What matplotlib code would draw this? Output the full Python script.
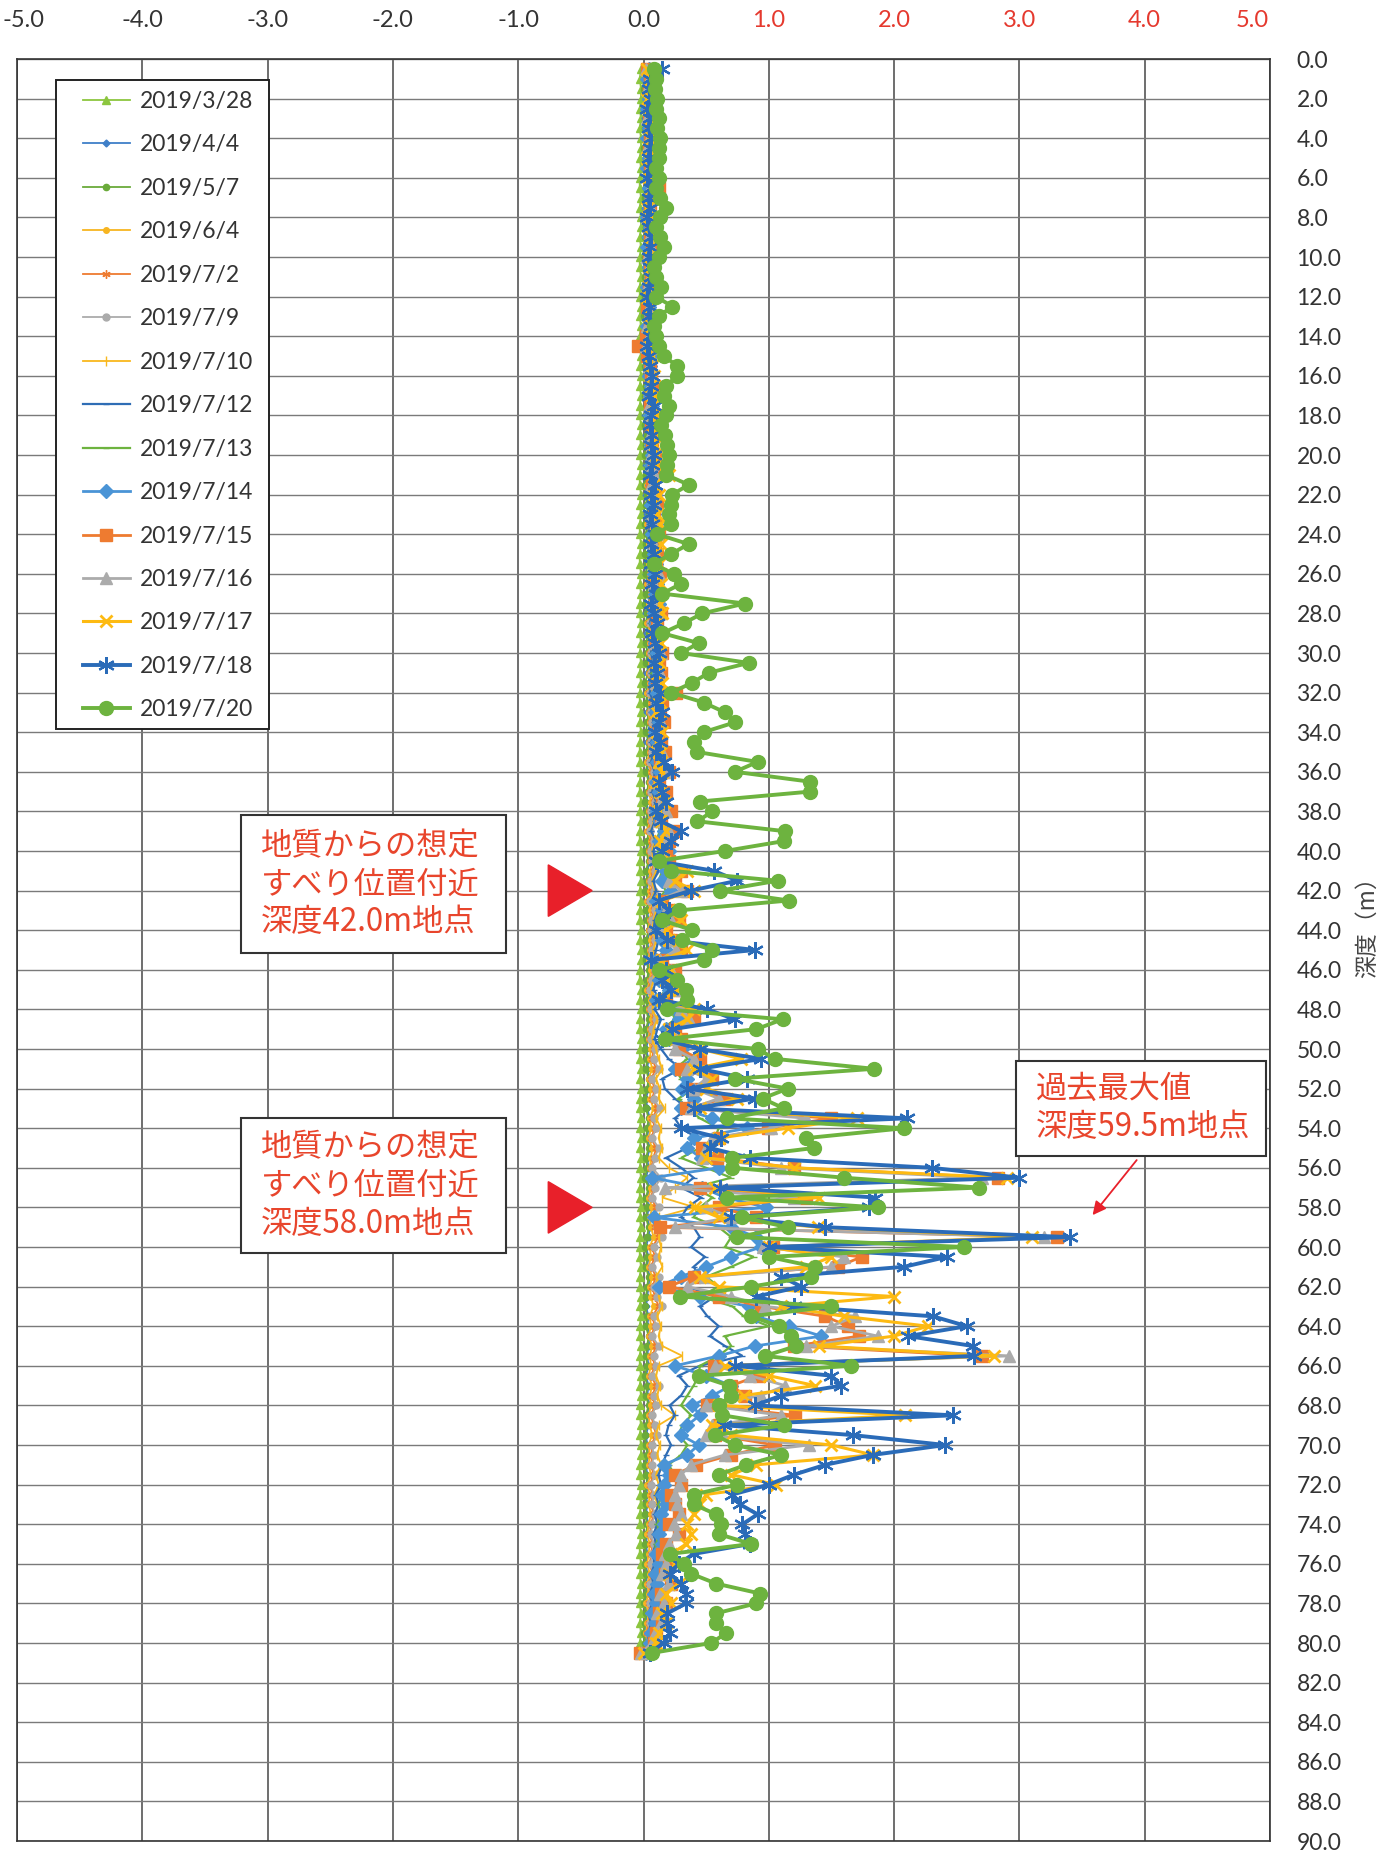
import matplotlib
matplotlib.use("Agg")
import matplotlib.pyplot as plt
import matplotlib.transforms as mtransforms
import numpy as np
from matplotlib.patches import Rectangle, Polygon

plt.rcParams['font.family'] = ['Lato', 'Noto Sans CJK JP', 'DejaVu Sans']
CJK = ['Noto Sans CJK JP', 'DejaVu Sans']

# Measurement depths (m), every 0.5 m from 0.5 to 80.5
depths = np.arange(0.5, 80.51, 0.5)

# Displacement (mm) per depth interval for each survey date
d0328 = [-0.02,-0.03,-0.02,-0.02,-0.03,-0.02,-0.03,-0.02,-0.02,-0.03,
         -0.02,-0.03,-0.03,-0.02,-0.03,-0.02,-0.02,-0.03,-0.02,-0.03,
         -0.03,-0.02,-0.03,-0.03,-0.02,-0.03,-0.02,-0.03,-0.03,-0.02,
         -0.03,-0.02,-0.03,-0.02,-0.03,-0.03,-0.02,-0.03,-0.02,-0.03,
         -0.02,-0.03,-0.03,-0.02,-0.03,-0.02,-0.03,-0.03,-0.02,-0.03,
         -0.03,-0.02,-0.03,-0.02,-0.03,-0.03,-0.02,-0.03,-0.02,-0.03,
         -0.02,-0.03,-0.02,-0.03,-0.03,-0.02,-0.03,-0.02,-0.03,-0.03,
         -0.03,-0.02,-0.03,-0.03,-0.02,-0.03,-0.02,-0.03,-0.03,-0.02,
         -0.03,-0.03,-0.02,-0.03,-0.02,-0.03,-0.03,-0.02,-0.03,-0.02,
         -0.02,-0.03,-0.03,-0.02,-0.03,-0.02,-0.03,-0.03,-0.02,-0.03,
         -0.03,-0.02,-0.03,-0.02,-0.03,-0.03,-0.02,-0.03,-0.02,-0.03,
         -0.02,-0.03,-0.02,-0.03,-0.03,-0.02,-0.03,-0.02,-0.03,-0.03,
         -0.03,-0.02,-0.03,-0.03,-0.02,-0.03,-0.02,-0.03,-0.03,-0.02,
         -0.03,-0.03,-0.02,-0.03,-0.02,-0.03,-0.03,-0.02,-0.03,-0.02,
         -0.02,-0.03,-0.03,-0.02,-0.03,-0.02,-0.03,-0.03,-0.02,-0.03,
         -0.03,-0.02,-0.03,-0.02,-0.03,-0.03,-0.02,-0.03,-0.02,-0.03,
         -0.03]
d0404 = [0.02,0.03,0.01,0.03,0.02,0.01,0.03,0.02,0.04,0.02,
         0.01,0.03,0.02,0.03,0.01,0.02,0.04,0.02,0.03,0.01,
         0.02,0.03,0.01,0.02,0.03,0.02,0.04,0.03,0.01,0.02,
         0.03,0.02,0.04,0.02,0.03,0.01,0.03,0.02,0.04,0.03,
         0.02,0.04,0.03,0.02,0.04,0.03,0.02,0.04,0.03,0.05,
         0.03,0.02,0.04,0.03,0.05,0.02,0.04,0.03,0.05,0.03,
         0.04,0.03,0.05,0.02,0.04,0.03,0.05,0.04,0.03,0.05,
         0.04,0.03,0.05,0.04,0.02,0.04,0.03,0.05,0.04,0.03,
         0.05,0.03,0.04,0.02,0.05,0.03,0.04,0.05,0.03,0.04,
         0.03,0.05,0.04,0.02,0.04,0.03,0.05,0.03,0.04,0.02,
         0.04,0.03,0.05,0.04,0.02,0.03,0.05,0.04,0.03,0.05,
         0.03,0.04,0.02,0.05,0.03,0.04,0.03,0.05,0.04,0.02,
         0.04,0.03,0.05,0.04,0.03,0.02,0.04,0.03,0.05,0.04,
         0.03,0.04,0.02,0.04,0.03,0.05,0.03,0.04,0.02,0.03,
         0.04,0.02,0.03,0.04,0.02,0.03,0.02,0.04,0.03,0.02,
         0.03,0.02,0.03,0.02,0.03,0.01,0.03,0.02,0.01,0.02,
         0.00]
d0507 = [0.01,0.02,0.00,0.02,0.01,0.03,0.01,0.02,0.00,0.02,
         0.01,0.03,0.02,0.01,0.02,0.00,0.02,0.01,0.03,0.01,
         0.02,0.01,0.03,0.01,0.02,0.00,0.02,0.03,0.01,0.02,
         0.01,0.03,0.02,0.01,0.03,0.02,0.01,0.03,0.02,0.01,
         0.03,0.02,0.01,0.03,0.02,0.04,0.01,0.03,0.02,0.01,
         0.03,0.02,0.04,0.02,0.01,0.03,0.02,0.04,0.02,0.03,
         0.02,0.04,0.01,0.03,0.02,0.04,0.03,0.02,0.04,0.02,
         0.03,0.02,0.04,0.03,0.01,0.03,0.02,0.04,0.03,0.02,
         0.04,0.02,0.03,0.01,0.04,0.02,0.03,0.04,0.02,0.03,
         0.02,0.04,0.03,0.01,0.03,0.02,0.04,0.02,0.03,0.01,
         0.03,0.02,0.04,0.03,0.01,0.02,0.04,0.03,0.02,0.04,
         0.02,0.03,0.01,0.04,0.02,0.03,0.02,0.04,0.03,0.01,
         0.03,0.02,0.04,0.03,0.02,0.01,0.03,0.02,0.04,0.03,
         0.02,0.03,0.01,0.03,0.02,0.04,0.02,0.03,0.01,0.02,
         0.03,0.01,0.02,0.03,0.01,0.02,0.01,0.03,0.02,0.01,
         0.02,0.01,0.02,0.01,0.02,0.00,0.02,0.01,0.00,0.01,
         -0.01]
d0604 = [0.02,0.04,0.03,0.05,0.02,0.04,0.03,0.05,0.03,0.04,
         0.02,0.05,0.03,0.04,0.02,0.05,0.04,0.03,0.05,0.02,
         0.04,0.03,0.05,0.02,0.04,0.03,0.05,0.04,0.02,0.04,
         0.03,0.05,0.04,0.02,0.05,0.03,0.04,0.06,0.03,0.05,
         0.04,0.06,0.03,0.05,0.04,0.06,0.03,0.05,0.04,0.06,
         0.04,0.05,0.03,0.06,0.04,0.05,0.03,0.06,0.05,0.04,
         0.06,0.04,0.05,0.03,0.06,0.04,0.05,0.06,0.04,0.05,
         0.03,0.06,0.05,0.04,0.06,0.04,0.05,0.03,0.06,0.04,
         0.05,0.06,0.04,0.05,0.03,0.06,0.05,0.04,0.06,0.05,
         0.04,0.06,0.05,0.03,0.06,0.04,0.07,0.05,0.04,0.06,
         0.05,0.07,0.04,0.06,0.05,0.08,0.05,0.06,0.04,0.07,
         0.06,0.05,0.08,0.06,0.04,0.07,0.05,0.06,0.08,0.05,
         0.06,0.04,0.07,0.05,0.06,0.08,0.05,0.06,0.04,0.07,
         0.05,0.06,0.04,0.07,0.05,0.06,0.04,0.05,0.07,0.04,
         0.05,0.04,0.06,0.03,0.05,0.04,0.06,0.04,0.03,0.05,
         0.04,0.03,0.05,0.03,0.04,0.02,0.04,0.03,0.02,0.03,
         0.00]
d0702 = [0.03,0.05,0.04,0.06,0.03,0.05,0.04,0.06,0.04,0.05,
         0.03,0.06,0.04,0.05,0.03,0.06,0.05,0.04,0.06,0.03,
         0.05,0.04,0.06,0.03,0.05,0.04,0.06,0.05,0.03,0.05,
         0.04,0.06,0.05,0.03,0.06,0.04,0.05,0.07,0.04,0.06,
         0.05,0.07,0.04,0.06,0.05,0.07,0.04,0.06,0.05,0.07,
         0.05,0.06,0.04,0.07,0.05,0.06,0.04,0.07,0.06,0.05,
         0.07,0.05,0.06,0.04,0.07,0.05,0.06,0.07,0.05,0.06,
         0.04,0.07,0.06,0.05,0.08,0.05,0.06,0.04,0.07,0.05,
         0.06,0.08,0.05,0.07,0.04,0.08,0.06,0.05,0.08,0.06,
         0.05,0.08,0.06,0.04,0.08,0.05,0.09,0.06,0.05,0.08,
         0.07,0.10,0.06,0.09,0.07,0.11,0.07,0.09,0.06,0.10,
         0.08,0.06,0.11,0.08,0.06,0.10,0.07,0.09,0.12,0.07,
         0.09,0.06,0.10,0.07,0.09,0.12,0.07,0.09,0.06,0.10,
         0.07,0.09,0.06,0.10,0.07,0.09,0.06,0.08,0.10,0.06,
         0.07,0.06,0.08,0.05,0.07,0.06,0.08,0.06,0.05,0.07,
         0.06,0.05,0.07,0.04,0.06,0.04,0.05,0.04,0.03,0.04,
         0.01]
d0709 = [0.04,0.06,0.05,0.07,0.04,0.06,0.05,0.07,0.05,0.06,
         0.04,0.07,0.05,0.06,0.04,0.07,0.06,0.05,0.07,0.04,
         0.06,0.05,0.07,0.04,0.06,0.05,0.07,0.06,0.04,0.06,
         0.05,0.07,0.06,0.04,0.07,0.05,0.06,0.08,0.05,0.07,
         0.06,0.08,0.05,0.07,0.06,0.08,0.05,0.07,0.06,0.08,
         0.06,0.07,0.05,0.08,0.06,0.07,0.05,0.08,0.07,0.06,
         0.08,0.06,0.07,0.05,0.08,0.06,0.07,0.08,0.06,0.07,
         0.05,0.08,0.07,0.06,0.09,0.06,0.07,0.05,0.08,0.06,
         0.07,0.09,0.06,0.08,0.05,0.09,0.07,0.06,0.09,0.07,
         0.06,0.09,0.07,0.05,0.09,0.06,0.10,0.07,0.06,0.09,
         0.08,0.12,0.07,0.10,0.08,0.13,0.08,0.10,0.07,0.12,
         0.09,0.07,0.14,0.09,0.07,0.12,0.08,0.11,0.15,0.08,
         0.11,0.07,0.12,0.08,0.11,0.15,0.08,0.10,0.07,0.12,
         0.08,0.10,0.07,0.12,0.08,0.10,0.07,0.09,0.11,0.07,
         0.08,0.07,0.09,0.06,0.08,0.07,0.09,0.07,0.06,0.08,
         0.07,0.06,0.08,0.05,0.07,0.05,0.06,0.05,0.04,0.05,
         0.01]
d0710 = [0.05,0.07,0.06,0.08,0.05,0.07,0.06,0.08,0.06,0.07,
         0.05,0.08,0.06,0.07,0.05,0.08,0.07,0.06,0.08,0.05,
         0.07,0.06,0.08,0.05,0.07,0.06,0.08,0.07,0.05,0.07,
         0.06,0.08,0.07,0.05,0.08,0.06,0.07,0.09,0.06,0.08,
         0.07,0.09,0.06,0.08,0.07,0.09,0.06,0.08,0.07,0.09,
         0.07,0.08,0.06,0.09,0.07,0.08,0.06,0.09,0.08,0.07,
         0.09,0.07,0.08,0.06,0.09,0.07,0.08,0.09,0.07,0.08,
         0.06,0.09,0.08,0.07,0.10,0.07,0.08,0.06,0.09,0.07,
         0.08,0.10,0.07,0.09,0.06,0.10,0.08,0.07,0.10,0.08,
         0.07,0.10,0.08,0.06,0.10,0.07,0.11,0.08,0.07,0.10,
         0.12,0.15,0.10,0.13,0.12,0.17,0.10,0.14,0.12,0.15,
         0.12,0.20,0.35,0.25,0.15,0.41,0.12,0.15,0.12,0.14,
         0.12,0.15,0.10,0.14,0.12,0.15,0.11,0.14,0.12,0.15,
         0.31,0.12,0.10,0.13,0.11,0.14,0.25,0.12,0.10,0.13,
         0.11,0.14,0.10,0.12,0.09,0.11,0.10,0.12,0.09,0.11,
         0.08,0.10,0.07,0.09,0.06,0.08,0.05,0.07,0.05,0.04,
         0.01]
d0712 = [0.03,0.05,0.04,0.06,0.03,0.05,0.04,0.06,0.04,0.05,
         0.03,0.06,0.04,0.05,0.03,0.06,0.05,0.04,0.06,0.03,
         0.05,0.04,0.06,0.03,0.05,0.04,0.06,0.05,0.03,0.05,
         0.04,0.06,0.05,0.03,0.06,0.04,0.05,0.07,0.04,0.06,
         0.05,0.07,0.04,0.06,0.05,0.07,0.04,0.06,0.05,0.07,
         0.05,0.07,0.05,0.08,0.06,0.07,0.05,0.08,0.07,0.06,
         0.08,0.06,0.07,0.05,0.08,0.06,0.08,0.09,0.06,0.08,
         0.06,0.09,0.08,0.07,0.10,0.07,0.09,0.06,0.10,0.08,
         0.09,0.12,0.08,0.10,0.07,0.12,0.09,0.08,0.12,0.10,
         0.08,0.12,0.10,0.08,0.13,0.09,0.14,0.11,0.09,0.14,
         0.20,0.30,0.15,0.17,0.25,0.35,0.25,0.30,0.43,0.35,
         0.18,0.30,0.40,0.30,0.46,0.35,0.30,0.40,0.45,0.38,
         0.49,0.40,0.45,0.35,0.57,0.45,0.51,0.60,0.53,0.65,
         0.79,0.45,0.28,0.35,0.30,0.21,0.25,0.20,0.18,0.22,
         0.18,0.15,0.12,0.14,0.10,0.12,0.09,0.11,0.08,0.10,
         0.07,0.09,0.06,0.08,0.05,0.07,0.04,0.06,0.04,0.03,
         0.01]
d0713 = [0.03,0.04,0.02,0.05,0.03,0.04,0.02,0.05,0.03,0.04,
         0.02,0.05,0.03,0.04,0.02,0.05,0.03,0.04,0.02,0.05,
         0.03,0.04,0.02,0.05,0.03,0.04,0.02,0.05,0.03,0.04,
         0.05,0.03,0.06,0.04,0.05,0.03,0.06,0.04,0.05,0.07,
         0.05,0.07,0.04,0.06,0.08,0.05,0.07,0.06,0.08,0.05,
         0.07,0.09,0.06,0.08,0.07,0.09,0.06,0.08,0.10,0.07,
         0.09,0.07,0.10,0.08,0.11,0.07,0.09,0.10,0.08,0.11,
         0.09,0.12,0.08,0.10,0.12,0.09,0.11,0.13,0.10,0.12,
         0.10,0.15,0.12,0.18,0.10,0.13,0.16,0.11,0.14,0.17,
         0.10,0.14,0.12,0.18,0.11,0.22,0.25,0.15,0.20,0.30,
         0.35,0.25,0.30,0.40,0.28,0.35,0.45,0.60,0.57,0.45,
         0.30,0.50,0.70,0.40,0.55,0.45,0.40,0.60,0.70,0.65,
         0.88,0.70,0.50,0.60,0.45,0.71,0.80,1.00,0.65,0.70,
         0.60,0.45,0.44,0.40,0.35,0.30,0.38,0.31,0.28,0.35,
         0.30,0.20,0.25,0.18,0.15,0.12,0.14,0.11,0.13,0.10,
         0.09,0.11,0.08,0.10,0.07,0.09,0.06,0.08,0.05,0.04,
         0.01]
d0714 = [0.04,0.03,0.05,0.04,0.03,0.05,0.04,0.03,0.05,0.04,
         0.03,0.05,0.04,0.06,0.04,0.03,0.05,0.04,0.03,0.05,
         0.04,0.06,0.03,0.05,0.04,0.06,0.03,0.05,0.04,0.06,
         0.05,0.04,0.06,0.05,0.07,0.05,0.06,0.08,0.06,0.07,
         0.06,0.08,0.07,0.09,0.06,0.08,0.10,0.07,0.09,0.08,
         0.10,0.08,0.11,0.09,0.12,0.08,0.10,0.13,0.09,0.11,
         0.10,0.12,0.09,0.11,0.13,0.10,0.12,0.09,0.11,0.14,
         0.11,0.13,0.10,0.12,0.15,0.11,0.13,0.16,0.12,0.20,
         0.12,0.18,0.15,0.22,0.10,0.15,0.20,0.12,0.15,0.18,
         0.10,0.15,0.12,0.20,0.10,0.25,0.28,0.18,0.20,0.31,
         0.41,0.25,0.35,0.31,0.40,0.30,0.55,0.83,0.40,0.35,
         0.46,0.60,0.07,0.47,0.65,0.98,0.08,0.70,0.90,0.94,
         0.70,0.50,0.30,0.12,0.45,0.84,0.90,1.16,1.42,0.89,
         0.60,0.25,0.50,0.70,0.55,0.39,0.45,0.35,0.30,0.44,
         0.35,0.16,0.20,0.16,0.15,0.18,0.14,0.16,0.12,0.15,
         0.10,0.12,0.09,0.11,0.08,0.10,0.07,0.09,0.06,0.05,
         0.02]
d0715 = [0.03,0.05,0.04,0.06,0.05,0.04,0.06,0.05,0.04,0.06,
         0.05,0.07,0.12,0.06,0.05,0.04,0.06,0.05,0.07,0.04,
         0.05,0.06,0.04,0.05,0.03,0.06,0.05,0.02,-0.04,0.03,
         0.05,0.06,0.08,0.07,0.05,0.09,0.06,0.08,0.07,0.09,
         0.08,0.10,0.07,0.09,0.11,0.08,0.10,0.12,0.09,0.11,
         0.10,0.13,0.09,0.12,0.10,0.14,0.11,0.13,0.10,0.15,
         0.12,0.14,0.11,0.26,0.15,0.13,0.16,0.12,0.14,0.17,
         0.13,0.20,0.12,0.18,0.15,0.22,0.14,0.25,0.20,0.18,
         0.20,0.30,0.25,0.35,0.15,0.20,0.28,0.18,0.22,0.30,
         0.15,0.25,0.20,0.30,0.18,0.35,0.40,0.25,0.30,0.28,
         0.45,0.30,0.55,0.40,0.65,0.34,1.50,0.99,0.60,0.47,
         0.59,1.20,2.83,0.45,1.30,0.60,0.90,0.13,3.30,1.03,
         1.74,1.55,0.40,0.20,0.60,0.94,1.45,1.63,1.72,1.20,
         2.70,0.56,0.92,0.70,0.81,0.51,1.21,0.60,0.57,1.05,
         0.70,0.42,0.25,0.30,0.22,0.25,0.28,0.20,0.28,0.18,
         0.15,0.20,0.17,0.22,0.14,0.18,0.12,0.15,0.10,0.08,
         -0.03]
d0716 = [0.02,0.04,0.03,0.05,0.04,0.03,0.05,0.04,0.03,0.05,
         0.04,0.06,0.05,0.04,0.06,0.03,0.05,0.04,0.06,0.03,
         0.04,0.05,0.03,0.06,0.04,0.05,0.03,0.04,0.02,0.05,
         0.04,0.06,0.05,0.07,0.04,0.06,0.08,0.05,0.07,0.06,
         0.07,0.09,0.06,0.08,0.10,0.07,0.09,0.11,0.08,0.10,
         0.09,0.12,0.08,0.11,0.09,0.13,0.10,0.12,0.09,0.14,
         0.11,0.13,0.10,0.16,0.12,0.11,0.14,0.10,0.12,0.15,
         0.12,0.17,0.11,0.15,0.13,0.18,0.12,0.20,0.17,0.15,
         0.16,0.25,0.20,0.30,0.12,0.18,0.22,0.15,0.20,0.26,
         0.13,0.22,0.18,0.26,0.16,0.30,0.36,0.22,0.26,0.25,
         0.40,0.35,0.50,0.40,0.60,0.38,1.30,1.02,0.55,0.50,
         0.47,1.10,2.70,0.17,1.20,0.50,0.70,0.25,3.20,0.95,
         1.60,1.50,0.49,0.35,0.70,0.97,1.69,1.50,1.87,1.30,
         2.92,0.57,0.85,1.13,0.94,0.50,1.10,0.55,0.50,1.32,
         0.65,0.38,0.30,0.28,0.25,0.27,0.30,0.24,0.26,0.20,
         0.17,0.18,0.15,0.20,0.13,0.16,0.11,0.14,0.09,0.07,
         -0.02]
d0717 = [0.03,0.05,0.04,0.03,0.05,0.04,0.06,0.04,0.05,0.03,
         0.05,0.04,0.06,0.05,0.03,0.05,0.04,0.06,0.05,0.04,
         0.06,0.04,0.05,0.03,0.06,0.05,0.04,0.06,0.05,0.07,
         0.06,0.08,0.05,0.09,0.07,0.10,0.08,0.12,0.09,0.11,
         0.10,0.20,0.08,0.12,0.09,0.11,0.13,0.10,0.14,0.11,
         0.12,0.10,0.14,0.11,0.13,0.15,0.12,0.10,0.14,0.12,
         0.13,0.11,0.15,0.12,0.14,0.10,0.13,0.15,0.11,0.14,
         0.12,0.15,0.10,0.13,0.16,0.12,0.14,0.18,0.13,0.16,
         0.15,0.35,0.25,0.40,0.15,0.20,0.30,0.18,0.20,0.35,
         0.15,0.22,0.18,0.28,0.15,0.40,0.35,0.20,0.25,0.45,
         0.78,0.40,0.55,0.50,0.75,0.45,1.70,1.15,0.60,0.55,
         0.50,1.20,2.90,0.57,1.40,0.41,0.60,1.39,3.10,1.00,
         1.50,1.30,0.45,0.60,2.00,1.10,1.60,2.27,2.00,1.40,
         2.80,0.65,1.00,1.37,0.80,0.60,2.09,0.55,0.70,1.50,
         1.83,0.90,0.70,1.06,0.50,0.45,0.40,0.35,0.38,0.34,
         0.22,0.25,0.20,0.28,0.18,0.22,0.15,0.18,0.12,0.10,
         0.00]
d0718 = [0.15,0.05,0.04,0.06,0.03,0.05,0.04,0.06,0.05,0.04,
         0.05,0.03,0.06,0.04,0.05,0.03,0.04,0.06,0.05,0.04,
         0.05,0.06,0.04,0.03,0.05,0.04,0.06,0.05,0.03,0.04,
         0.05,0.07,0.06,0.04,0.08,0.06,0.05,0.07,0.06,0.08,
         0.07,0.05,0.09,0.06,0.08,0.05,0.07,0.09,0.06,0.08,
         0.06,0.09,0.07,0.10,0.06,0.08,0.11,0.07,0.09,0.12,
         0.08,0.11,0.09,0.13,0.10,0.15,0.12,0.09,0.13,0.10,
         0.16,0.23,0.12,0.15,0.18,0.10,0.14,0.30,0.22,0.15,
         0.10,0.56,0.75,0.38,0.12,0.20,0.15,0.10,0.19,0.89,
         0.06,0.18,0.15,0.22,0.12,0.51,0.73,0.23,0.15,0.45,
         0.94,0.45,0.83,0.35,0.89,0.40,2.10,0.30,0.62,0.53,
         0.85,2.30,3.00,0.61,1.85,1.80,0.70,1.45,3.40,1.00,
         2.42,2.08,1.10,1.26,0.90,1.20,2.31,2.58,2.11,2.63,
         2.64,0.73,1.50,1.58,1.10,0.89,2.47,0.64,1.67,2.41,
         1.83,1.45,1.20,1.00,0.71,0.77,0.91,0.79,0.81,0.85,
         0.40,0.28,0.21,0.30,0.34,0.34,0.19,0.19,0.21,0.16,
         0.05]
d0720 = [0.08,0.10,0.09,0.11,0.10,0.12,0.11,0.13,0.12,0.12,
         0.10,0.12,0.10,0.13,0.18,0.13,0.10,0.13,0.16,0.12,
         0.08,0.10,0.14,0.10,0.23,0.12,0.08,0.10,0.12,0.16,
         0.27,0.27,0.18,0.16,0.20,0.18,0.14,0.17,0.19,0.20,
         0.19,0.18,0.36,0.23,0.22,0.20,0.22,0.11,0.36,0.22,
         0.08,0.24,0.30,0.15,0.81,0.47,0.32,0.15,0.44,0.30,
         0.84,0.52,0.39,0.22,0.48,0.65,0.73,0.48,0.40,0.43,
         0.91,0.73,1.33,1.33,0.45,0.55,0.43,1.13,1.12,0.65,
         0.12,0.22,1.07,0.61,1.16,0.28,0.15,0.39,0.31,0.55,
         0.48,0.12,0.27,0.34,0.35,0.19,1.11,0.90,0.17,0.91,
         1.05,1.84,0.73,1.15,0.95,1.12,0.67,2.08,1.30,1.36,
         0.71,0.71,1.60,2.68,0.67,1.87,0.79,1.15,0.75,2.56,
         1.00,1.37,1.34,0.86,0.29,1.50,0.86,1.08,1.18,1.22,
         0.97,1.66,0.44,0.68,0.70,0.60,0.63,1.12,0.57,0.73,
         1.10,0.82,0.60,0.75,0.40,0.40,0.58,0.62,0.60,0.86,
         0.21,0.32,0.38,0.58,0.93,0.90,0.58,0.58,0.66,0.54,
         0.07]

dates = ["2019/3/28", "2019/4/4", "2019/5/7", "2019/6/4", "2019/7/2",
         "2019/7/9", "2019/7/10", "2019/7/12", "2019/7/13", "2019/7/14",
         "2019/7/15", "2019/7/16", "2019/7/17", "2019/7/18", "2019/7/20"]

x_ticks = [-5.0, -4.0, -3.0, -2.0, -1.0, 0.0, 1.0, 2.0, 3.0, 4.0, 5.0]
y_ticks = list(range(0, 91, 2))

slip_depths = [42.0, 58.0]
slip_notes = ["地質からの想定\nすべり位置付近\n深度42.0m地点",
              "地質からの想定\nすべり位置付近\n深度58.0m地点"]
max_note = "過去最大値\n深度59.5m地点"

ASTER = (6, 2, 0)
series = [
    (d0328, dict(color="#8CC63F", marker="^", ms=6, lw=1.3)),
    (d0404, dict(color="#3F7FC8", marker="D", ms=3.5, lw=1.3)),
    (d0507, dict(color="#6AAA3A", marker="o", ms=4.5, lw=1.3)),
    (d0604, dict(color="#F7B521", marker="o", ms=4, lw=1.3)),
    (d0702, dict(color="#EE7B30", marker=ASTER, ms=6, lw=1.3)),
    (d0709, dict(color="#ABABAB", marker="o", ms=5, lw=1.3)),
    (d0710, dict(color="#F9B81E", marker="|", ms=7, lw=1.3)),
    (d0712, dict(color="#2F6DB5", marker="_", ms=5, lw=1.6)),
    (d0713, dict(color="#6DB33F", marker="_", ms=5, lw=1.6)),
    (d0714, dict(color="#4A94D6", marker="D", ms=7, lw=2.0)),
    (d0715, dict(color="#EE7B30", marker="s", ms=8, lw=2.0)),
    (d0716, dict(color="#ABABAB", marker="^", ms=8, lw=2.0)),
    (d0717, dict(color="#FDBA12", marker="x", ms=8, mew=2.0, lw=2.2)),
    (d0718, dict(color="#2A6BB8", marker=ASTER, ms=12, mew=1.6, lw=2.8)),
    (d0720, dict(color="#6DB33F", marker="o", ms=10, lw=2.8)),
]

W, H = 1397, 1853
fig = plt.figure(figsize=(W / 100, H / 100), dpi=100)
ax = fig.add_axes([17 / W, 12 / H, 1253 / W, 1782 / H])

for (vals, st), label in zip(series, dates):
    c = st["color"]
    ax.plot(vals, depths[:len(vals)], color=c, lw=st["lw"], marker=st["marker"],
            ms=st["ms"], mfc=c, mec=c, mew=st.get("mew", 1.0),
            label=label, solid_joinstyle="miter")

ax.set_xlim(-5, 5)
ax.set_ylim(90, 0)
ax.xaxis.tick_top()
ax.yaxis.tick_right()
ax.set_xticks(x_ticks)
ax.set_xticklabels([f"{v:.1f}" for v in x_ticks])
ax.set_yticks(y_ticks)
ax.set_yticklabels([f"{v:.1f}" for v in y_ticks])
ax.tick_params(axis="x", length=0, pad=20, labelsize=17, labelcolor="#333333")
ax.tick_params(axis="y", length=0, pad=19, labelsize=16.5, labelcolor="#333333")
for lbl, v in zip(ax.get_xticklabels(), x_ticks):
    if v > 0:
        lbl.set_color("#E5392E")
    # keep the outermost labels inside the page
    if v == x_ticks[0]:
        lbl.set_transform(lbl.get_transform() +
                          mtransforms.ScaledTranslation(7 / 100, 0, fig.dpi_scale_trans))
    elif v == x_ticks[-1]:
        lbl.set_transform(lbl.get_transform() +
                          mtransforms.ScaledTranslation(-18 / 100, 0, fig.dpi_scale_trans))

ax.set_axisbelow(True)
ax.grid(axis="x", color="#555555", lw=1.2)
ax.grid(axis="y", color="#7a7a7a", lw=1.0)
for sp in ax.spines.values():
    sp.set_color("#333333")
    sp.set_linewidth(1.2)

fig.text(1367 / W, 1 - 922 / H, "深度（m）", rotation=90, ha="center", va="center",
         fontsize=16.5, color="#444444", family=CJK)

# Legend: white framed panel with the entries placed inside it
legend_panel = Rectangle((56 / W, 1 - 729 / H), 213 / W, 649 / H,
                         transform=fig.transFigure, facecolor="white",
                         edgecolor="#222222", lw=1.4, zorder=4)
ax.add_patch(legend_panel)
leg = ax.legend(loc="upper left", bbox_to_anchor=(83 / W, 1 - 91 / H),
                bbox_transform=fig.transFigure, fontsize=16.5, frameon=False,
                handlelength=2.05, labelspacing=0.98, borderpad=0,
                handletextpad=0.42, borderaxespad=0)
leg.set_zorder(5)
for t in leg.get_texts():
    t.set_color("#333333")

RED = "#E8452C"
TRI = "#E8202A"

# Callouts for the expected slip surfaces
box_tops = [38.2, 53.5]
box_heights = [6.95, 6.8]
for d, note, top, hgt in zip(slip_depths, slip_notes, box_tops, box_heights):
    ax.add_patch(Rectangle((-3.21, top), 2.11, hgt, facecolor="white",
                           edgecolor="#333333", lw=1.5, zorder=6))
    ax.text(-3.05, top + hgt / 2, note, ha="left", va="center", fontsize=22.5,
            color=RED, family=CJK, linespacing=1.25, zorder=7)
    ax.add_patch(Polygon([(-0.76, d - 1.3), (-0.76, d + 1.3), (-0.41, d)],
                         closed=True, facecolor=TRI, edgecolor=TRI, zorder=7))

# Callout for the largest recorded displacement
peak_idx = int(np.argmax(d0718))
peak_val = d0718[peak_idx]
peak_depth = depths[peak_idx]
ax.add_patch(Rectangle((2.97, 50.6), 2.0, 4.8, facecolor="white",
                       edgecolor="#333333", lw=1.5, zorder=6))
ax.text(3.13, 53.0, max_note, ha="left", va="center", fontsize=22.5,
        color=RED, family=CJK, linespacing=1.25, zorder=7)
ax.annotate("", xy=(peak_val + 0.17, peak_depth - 1.0),
            xytext=(peak_val + 0.55, peak_depth - 4.0),
            arrowprops=dict(arrowstyle="-|>", color=TRI, lw=1.3,
                            mutation_scale=20), zorder=7)

fig.savefig("out.png", dpi=100, facecolor="white")
